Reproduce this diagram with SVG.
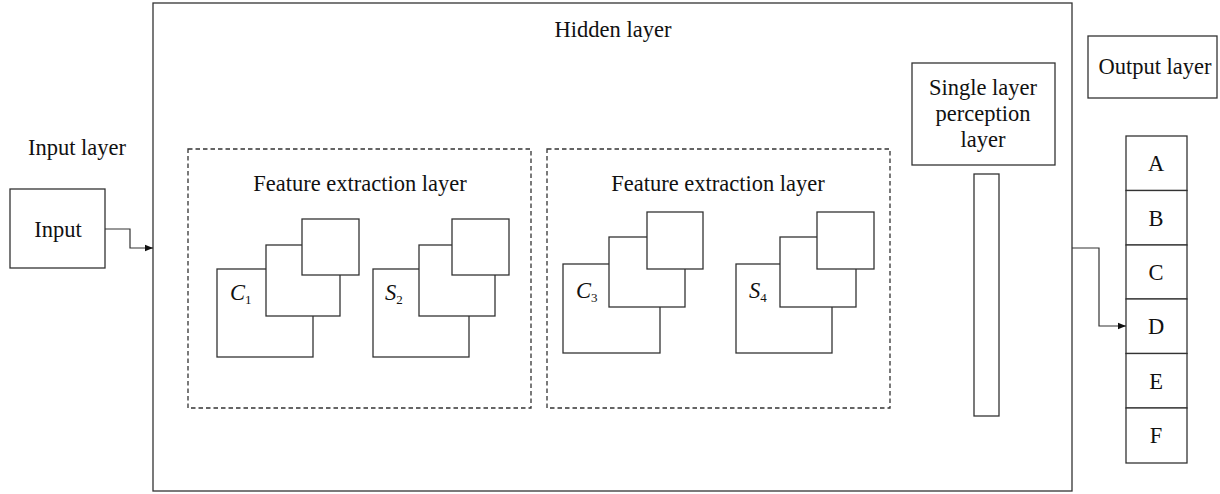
<svg xmlns="http://www.w3.org/2000/svg" width="1220" height="494" viewBox="0 0 1220 494">
<style>
text{font-family:'Liberation Serif','Times New Roman','DejaVu Serif',serif;font-size:22.5px;fill:#111;text-anchor:middle}
.box{fill:#fff;stroke:#333;stroke-width:1.3}
.dash{fill:none;stroke:#333;stroke-width:1.3;stroke-dasharray:4.5,3}
.sq{fill:#fff;stroke:#333;stroke-width:1.3}
.lbl{font-style:italic;text-anchor:start}
.sub{font-size:13px;font-style:normal}
.conn{fill:none;stroke:#333;stroke-width:1.2}
</style>
<defs>
<marker id="arr" viewBox="0 0 10 10" refX="10" refY="5" markerWidth="8" markerHeight="8" markerUnits="userSpaceOnUse" orient="auto">
<path d="M0,1 L10,5 L0,9 z" fill="#111"/>
</marker>
</defs>
<rect width="1220" height="494" fill="#fff"/>
<g id="hidden">
<rect class="box" x="153" y="3" width="919" height="488" stroke-width="1.6"/>
<text x="613" y="37" font-family="Liberation Serif, serif">Hidden layer</text>
</g>
<g id="input">
<text x="77" y="155">Input layer</text>
<rect class="box" x="10" y="189" width="95" height="79"/>
<text x="58" y="237">Input</text>
</g>
<g id="fe1">
<rect class="dash" x="188" y="149" width="343" height="259"/>
<text x="360" y="191">Feature extraction layer</text>
<rect class="sq" x="217" y="269" width="96" height="88"/>
<rect class="sq" x="266" y="245" width="74" height="71"/>
<rect class="sq" x="302" y="219" width="57" height="56"/>
<text class="lbl" x="230" y="300">C<tspan class="sub" dy="4">1</tspan></text>
<rect class="sq" x="373" y="269" width="96" height="88"/>
<rect class="sq" x="419" y="245" width="76" height="71"/>
<rect class="sq" x="452" y="219" width="57" height="56"/>
<text class="lbl" x="385" y="300">S<tspan class="sub" dy="4">2</tspan></text>
</g>
<g id="fe2">
<rect class="dash" x="547" y="149" width="343" height="259"/>
<text x="718" y="191">Feature extraction layer</text>
<rect class="sq" x="563" y="264" width="97" height="89"/>
<rect class="sq" x="609" y="237" width="76" height="70"/>
<rect class="sq" x="647" y="212" width="56" height="57"/>
<text class="lbl" x="576" y="298">C<tspan class="sub" dy="4">3</tspan></text>
<rect class="sq" x="736" y="264" width="96" height="89"/>
<rect class="sq" x="780" y="237" width="76" height="70"/>
<rect class="sq" x="817" y="212" width="57" height="57"/>
<text class="lbl" x="749" y="298">S<tspan class="sub" dy="4">4</tspan></text>
</g>
<g id="slp">
<rect class="box" x="912" y="63" width="143" height="102"/>
<text x="983" y="95">Single layer</text>
<text x="983" y="121">perception</text>
<text x="983" y="147">layer</text>
<rect class="box" x="974" y="174" width="25" height="242"/>
</g>
<g id="output">
<rect class="box" x="1088" y="36" width="129" height="62"/>
<text x="1155" y="74">Output layer</text>
<rect class="box" x="1126" y="136" width="61" height="54.5"/>
<rect class="box" x="1126" y="190.5" width="61" height="54.5"/>
<rect class="box" x="1126" y="245" width="61" height="54"/>
<rect class="box" x="1126" y="299" width="61" height="54.5"/>
<rect class="box" x="1126" y="353.5" width="61" height="54.5"/>
<rect class="box" x="1126" y="408" width="61" height="55"/>
<text x="1156" y="171">A</text>
<text x="1156" y="225.5">B</text>
<text x="1156" y="280">C</text>
<text x="1156" y="334">D</text>
<text x="1156" y="388.5">E</text>
<text x="1156" y="443">F</text>
</g>
<g id="connectors">
<path class="conn" d="M105,229 H130 V248 H153" marker-end="url(#arr)"/>
<path class="conn" d="M1072,248 H1099 V326 H1126" marker-end="url(#arr)"/>
</g>
</svg>
